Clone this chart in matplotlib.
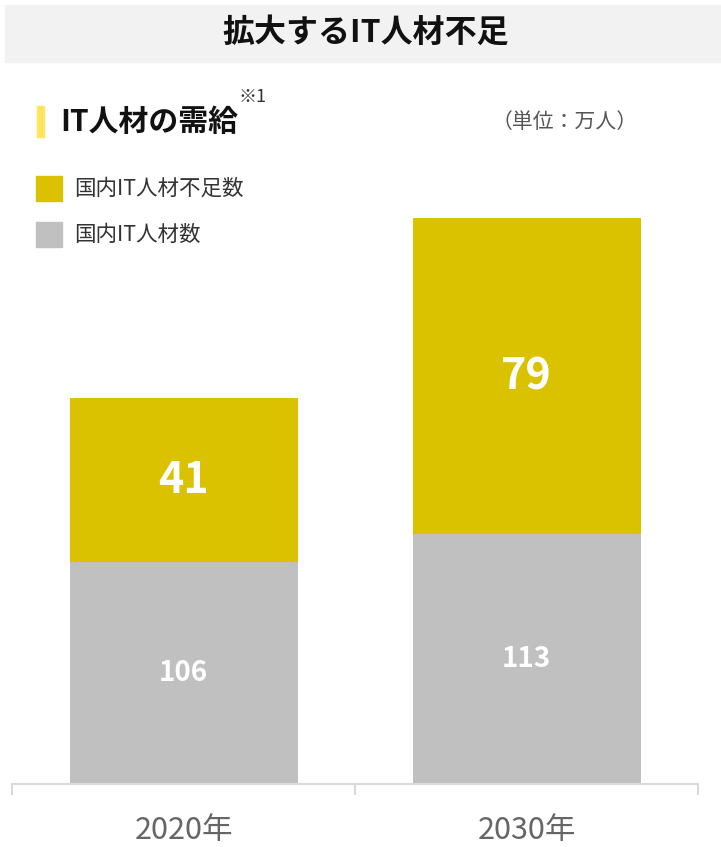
import matplotlib
matplotlib.use("Agg")
import matplotlib.pyplot as plt
from matplotlib.patches import Rectangle

plt.rcParams['font.family'] = ['Noto Sans CJK JP', 'DejaVu Sans']

# ---- data ----
years = ["2020年", "2030年"]
it_workers = [106, 113]          # 国内IT人材数
it_shortage = [41, 79]           # 国内IT人材不足数
series_labels = ["国内IT人材不足数", "国内IT人材数"]
title = "拡大するIT人材不足"
subtitle = "IT人材の需給"
note = "※1"
unit = "（単位：万人）"

# ---- style ----
c_short = "#DBC200"
c_work = "#C0C0C0"
c_marker = "#FFE45C"
axis_floor = 50.5   # truncated value axis, as in reference

W, H = 721, 847
fig = plt.figure(figsize=(W / 100, H / 100), dpi=100)

def fx(px):
    return px / W

def fy(py):
    return 1 - py / H

# title bar
fig.patches.append(Rectangle((fx(5), fy(62)), fx(716), (62 - 5) / H,
                             transform=fig.transFigure, color="#F2F2F2", zorder=0))
fig.text(fx(366), fy(33), title, ha="center", va="center",
         fontsize=23, fontweight="bold", color="#111111")

# subtitle
fig.patches.append(Rectangle((fx(37), fy(137)), fx(7), 31 / H,
                             transform=fig.transFigure, color=c_marker))
fig.text(fx(60), fy(122), subtitle, ha="left", va="center",
         fontsize=21.5, fontweight="bold", color="#111111")
fig.text(fx(238), fy(97), note, ha="left", va="center",
         fontsize=13, color="#333333")
fig.text(fx(638), fy(122), unit, ha="right", va="center",
         fontsize=15, color="#555555")

# legend
leg_y = [188.5, 234.5]
for (lab, col, yy) in zip(series_labels, [c_short, c_work], leg_y):
    fig.patches.append(Rectangle((fx(36), fy(yy + 12.5)), fx(26), 25 / H,
                                 transform=fig.transFigure, color=col))
    fig.text(fx(74), fy(yy), lab, ha="left", va="center",
             fontsize=15.5, color="#333333")

# axes
bottom_px, top_px = 784, 200
ax = fig.add_axes([fx(12), fy(bottom_px), fx(686), (bottom_px - top_px) / H])
ymax = axis_floor + (bottom_px - top_px) / 4
x = list(range(len(years)))
bw = 228 / 343
ax.bar(x, it_workers, width=bw, color=c_work, zorder=2)
ax.bar(x, it_shortage, width=bw, bottom=it_workers, color=c_short, zorder=2)
ax.set_xlim(-0.5, len(years) - 0.5)
ax.set_ylim(axis_floor, ymax)

for xi, w, s in zip(x, it_workers, it_shortage):
    ax.text(xi, (axis_floor + w) / 2, f"{w}", ha="center", va="center",
            color="white", fontsize=20, fontweight="bold", zorder=3)
    ax.text(xi, w + s / 2, f"{s}", ha="center", va="center",
            color="white", fontsize=31, fontweight="bold", zorder=3)

for sp in ["top", "right", "left"]:
    ax.spines[sp].set_visible(False)
ax.spines["bottom"].set_color("#D9D9D9")
ax.spines["bottom"].set_linewidth(1.5)
ax.set_yticks([])
ax.set_xticks([i - 0.5 for i in range(len(years) + 1)])
ax.set_xticklabels([])
ax.tick_params(axis="x", which="major", length=8, width=1.5, color="#D9D9D9")
ax.set_xticks(x, minor=True)
ax.set_xticklabels(years, minor=True)
ax.tick_params(axis="x", which="minor", length=0, pad=22, labelsize=22,
               labelcolor="#666666")
ax.patch.set_alpha(0)

fig.savefig("out.png", dpi=100)
